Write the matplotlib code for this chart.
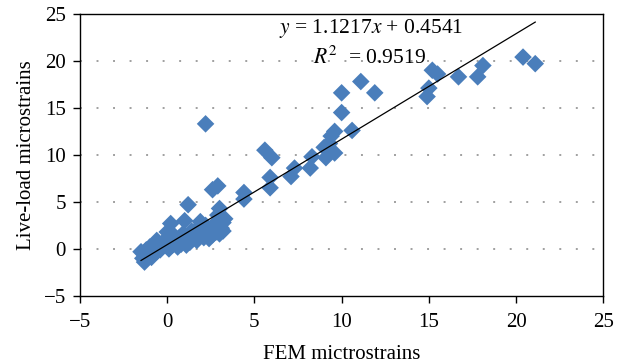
import matplotlib
matplotlib.use("Agg")
import matplotlib.pyplot as plt
import numpy as np

# FEM microstrains (x) and live-load microstrains (y)
fem = [20.4, 21.1, 16.7, 17.8, 18.1, 15.2, 15.5, 15.0, 14.9, 11.1, 10.0, 11.9,
       10.0, 10.6, 9.6, 9.4, 9.3, 9.0, 9.6, 9.1, 8.3, 8.2, 7.3, 7.1, 5.6, 6.0,
       5.9, 5.9, 4.4, 4.4, 2.2, 2.9, 2.6, 3.0, 1.2, 1.0,
       -1.3, -1.4, -1.3, -1.5, -1.2, -1.0, -0.9, -0.8, -0.6, -0.5, -0.4, -0.3,
       -0.2, 0.0, 0.1, 0.2, 0.3, 0.5, 0.6, 0.7, 0.8, 1.0, 1.1, 1.2, 1.3, 1.5,
       1.6, 1.7, 1.9, 2.0, 2.1, 2.3, 2.4, 2.5, 2.6, 2.8, 2.9, 3.0, 3.1, 3.2,
       3.3, 3.2, 2.7, 2.2, 1.8, 1.4, 0.9, 0.4, 0.2, -0.6, -1.0, 0.0, 1.9, 2.9]
live = [20.4, 19.7, 18.3, 18.3, 19.5, 19.0, 18.6, 17.1, 16.2, 17.8, 16.6, 16.6,
        14.5, 12.6, 12.5, 12.0, 11.2, 10.8, 10.2, 9.7, 9.8, 8.6, 8.6, 7.7, 10.5, 9.7,
        7.6, 6.5, 6.0, 5.3, 13.3, 6.7, 6.3, 4.3, 4.7, 3.0,
        -1.4, -1.0, -0.6, -0.3, -0.1, -0.5, -0.9, 0.1, -0.3, 0.4, -0.1, 0.2,
        0.8, 0.5, 0.0, 1.0, 0.4, 0.7, 0.2, 1.2, 0.5, 0.9, 0.4, 1.3, 0.7, 1.1,
        1.6, 0.9, 1.4, 2.0, 1.2, 1.7, 1.1, 2.1, 1.5, 1.8, 2.4, 1.6, 2.2, 2.8,
        3.2, 1.9, 2.6, 2.5, 2.3, 1.9, 1.6, 1.4, 2.7, 0.9, 0.2, 1.8, 2.9, 3.6]

slope = 1.1217
intercept = 0.4541
r2 = 0.9519

plt.rcParams['font.family'] = ['Liberation Serif', 'DejaVu Serif']
plt.rcParams['mathtext.fontset'] = 'stix'

fig = plt.figure(figsize=(6.2, 3.64), dpi=100)
ax = fig.add_axes([0.129, 0.187, 0.844, 0.775])

ax.scatter(fem, live, marker='D', s=80, color='#4A7EBB', edgecolors='none', zorder=3)

xl = np.array([min(fem), max(fem)])
ax.plot(xl, slope * xl + intercept, color='black', lw=0.9, zorder=4)

ax.set_xlim(-5, 25)
ax.set_ylim(-5, 25)
ticks = list(range(-5, 26, 5))
labels = ['\u22125' if v < 0 else str(v) for v in ticks]
ax.set_xticks(ticks)
ax.set_yticks(ticks)
ax.set_xticklabels(labels)
ax.set_yticklabels(labels)
for v in [0, 5, 10, 15, 20]:
    ax.axhline(v, color='#A0A0A0', lw=1.4, linestyle=(0, (1, 7.5)), zorder=1)

ax.tick_params(direction='out', length=5, width=1, labelsize=15)
ax.tick_params(axis='x', pad=7)
ax.tick_params(axis='y', pad=5)
for s in ax.spines.values():
    s.set_linewidth(1.0)

ax.set_xlabel('FEM mictrostrains', fontsize=15, labelpad=10)
ax.set_ylabel('Live-load microstrains', fontsize=15, labelpad=6)

ax.text(11.7, 23.4, '$y$ = 1.1217$x$ + 0.4541', fontsize=15.5, ha='center', va='center')
ax.text(11.6, 20.3, '$R^2$  = 0.9519', fontsize=15.5, ha='center', va='center')

fig.savefig('out.png', dpi=100)
